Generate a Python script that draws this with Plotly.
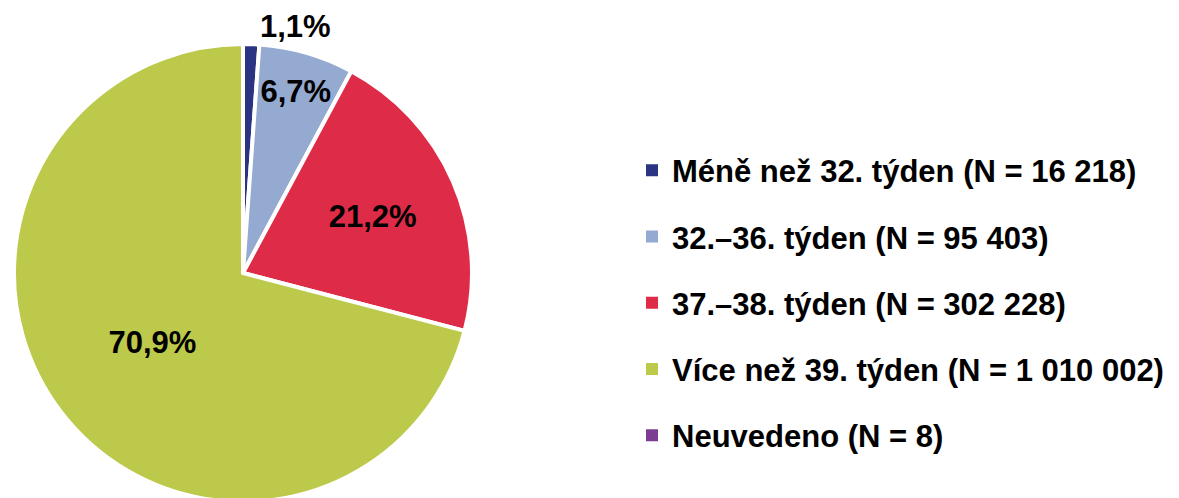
import plotly.graph_objects as go

categories = ["Méně než 32. týden", "32.–36. týden", "37.–38. týden", "Více než 39. týden", "Neuvedeno"]
counts = [16218, 95403, 302228, 1010002, 8]
count_labels = ["16 218", "95 403", "302 228", "1 010 002", "8"]
colors = ["#2B3383", "#94AAD0", "#DE2B48", "#BDC94B", "#7D3C93"]

W, H = 1179, 498
font_fam = "Liberation Sans, Arial, sans-serif"

texttemplates = ["%{percent:.1%}"] * 4 + [""]
textpositions = ["outside", "inside", "inside", "inside", "none"]

fig = go.Figure()
fig.add_trace(go.Pie(
    labels=categories,
    values=counts,
    sort=False,
    direction="clockwise",
    rotation=0,
    marker=dict(colors=colors, line=dict(color="white", width=4)),
    texttemplate=texttemplates,
    textposition=textpositions,
    insidetextorientation="horizontal",
    textfont=dict(family=font_fam, size=31, color="black", weight="bold"),
    domain=dict(x=[6 / W, 464 / W], y=[1 - 494 / H, 1 - 36 / H]),
    showlegend=False,
    hoverinfo="label+value+percent",
))

for cat, lab, col in zip(categories, count_labels, colors):
    fig.add_trace(go.Scatter(
        x=[None], y=[None], mode="markers",
        marker=dict(symbol="square", size=12, color=col),
        name=f"{cat} (N = {lab})",
        legendgroup=cat,
        showlegend=True,
    ))

fig.update_layout(
    width=W, height=H,
    margin=dict(l=0, r=0, t=0, b=0, autoexpand=False),
    paper_bgcolor="white", plot_bgcolor="white",
    separators=", ",
    xaxis=dict(visible=False), yaxis=dict(visible=False),
    legend=dict(
        x=624 / W, xanchor="left",
        y=1 - 295 / H, yanchor="middle",
        font=dict(family=font_fam, size=31, color="black", weight="bold"),
        tracegroupgap=23,
        traceorder="grouped",
        itemclick=False,
    ),
)

fig.write_html("out.html")
